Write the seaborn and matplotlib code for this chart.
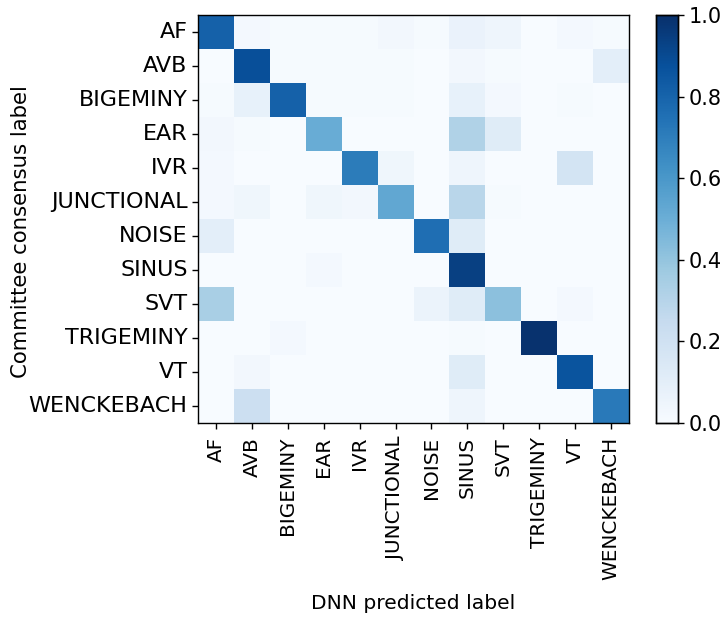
import numpy as np
import pandas as pd
import matplotlib
matplotlib.use('Agg')
import matplotlib.pyplot as plt
import seaborn as sns

# Classes do ritmo (linhas = consenso do comitê, colunas = previsão da DNN)
classes = ['AF', 'AVB', 'BIGEMINY', 'EAR', 'IVR', 'JUNCTIONAL', 'NOISE',
           'SINUS', 'SVT', 'TRIGEMINY', 'VT', 'WENCKEBACH']

row_af = [0.81, 0.02, 0.01, 0.01, 0.01, 0.03, 0.01, 0.07, 0.05, 0.00, 0.02, 0.01]
row_avb = [0.00, 0.88, 0.01, 0.01, 0.01, 0.01, 0.00, 0.03, 0.01, 0.00, 0.00, 0.10]
row_bigeminy = [0.01, 0.08, 0.81, 0.01, 0.01, 0.01, 0.00, 0.08, 0.02, 0.00, 0.01, 0.00]
row_ear = [0.03, 0.01, 0.00, 0.51, 0.00, 0.00, 0.00, 0.32, 0.12, 0.00, 0.00, 0.00]
row_ivr = [0.02, 0.00, 0.00, 0.00, 0.71, 0.04, 0.00, 0.05, 0.00, 0.00, 0.18, 0.00]
row_junctional = [0.02, 0.04, 0.00, 0.04, 0.03, 0.53, 0.00, 0.29, 0.01, 0.00, 0.00, 0.00]
row_noise = [0.10, 0.00, 0.00, 0.00, 0.00, 0.00, 0.76, 0.12, 0.00, 0.00, 0.00, 0.00]
row_sinus = [0.00, 0.00, 0.00, 0.02, 0.00, 0.00, 0.00, 0.94, 0.00, 0.00, 0.00, 0.00]
row_svt = [0.34, 0.00, 0.00, 0.00, 0.00, 0.00, 0.06, 0.12, 0.42, 0.00, 0.02, 0.00]
row_trigeminy = [0.00, 0.00, 0.02, 0.00, 0.00, 0.00, 0.00, 0.01, 0.00, 0.99, 0.00, 0.00]
row_vt = [0.00, 0.03, 0.00, 0.00, 0.00, 0.00, 0.00, 0.12, 0.00, 0.00, 0.86, 0.00]
row_wenckebach = [0.00, 0.22, 0.00, 0.00, 0.00, 0.00, 0.00, 0.05, 0.00, 0.00, 0.00, 0.72]

matriz = np.array([row_af, row_avb, row_bigeminy, row_ear, row_ivr, row_junctional,
                   row_noise, row_sinus, row_svt, row_trigeminy, row_vt, row_wenckebach])
df_conf = pd.DataFrame(matriz, index=classes, columns=classes)

W, H = 722, 636
fig = plt.figure(figsize=(W / 100, H / 100), dpi=100)
ax = fig.add_axes([198 / W, (H - 423) / H, 431 / W, 408 / H])
cax = fig.add_axes([656 / W, (H - 423) / H, 22 / W, 408 / H])

sns.heatmap(df_conf, ax=ax, cbar_ax=cax, cmap='Blues', vmin=0, vmax=1,
            square=False, linewidths=0)

for spine in ax.spines.values():
    spine.set_visible(True)
    spine.set_color('black')
    spine.set_linewidth(1.0)
for spine in cax.spines.values():
    spine.set_visible(True)
    spine.set_linewidth(1.0)

ax.set_xticklabels(classes, rotation=90, fontsize=14.4)
ax.set_yticklabels(classes, rotation=0, fontsize=16)
ax.tick_params(axis='both', length=4, width=1)
ax.tick_params(axis='x', pad=6)
ax.set_xlabel('DNN predicted label', fontsize=14.6, labelpad=10)
ax.set_ylabel('Committee consensus label', fontsize=15.3)
ax.yaxis.set_label_coords(-0.387, 0.47)

cax.tick_params(labelsize=15, length=4, width=1)
cax.set_yticks([0.0, 0.2, 0.4, 0.6, 0.8, 1.0])
cax.set_yticklabels(['0.0', '0.2', '0.4', '0.6', '0.8', '1.0'])

fig.savefig('out.png', dpi=100)
